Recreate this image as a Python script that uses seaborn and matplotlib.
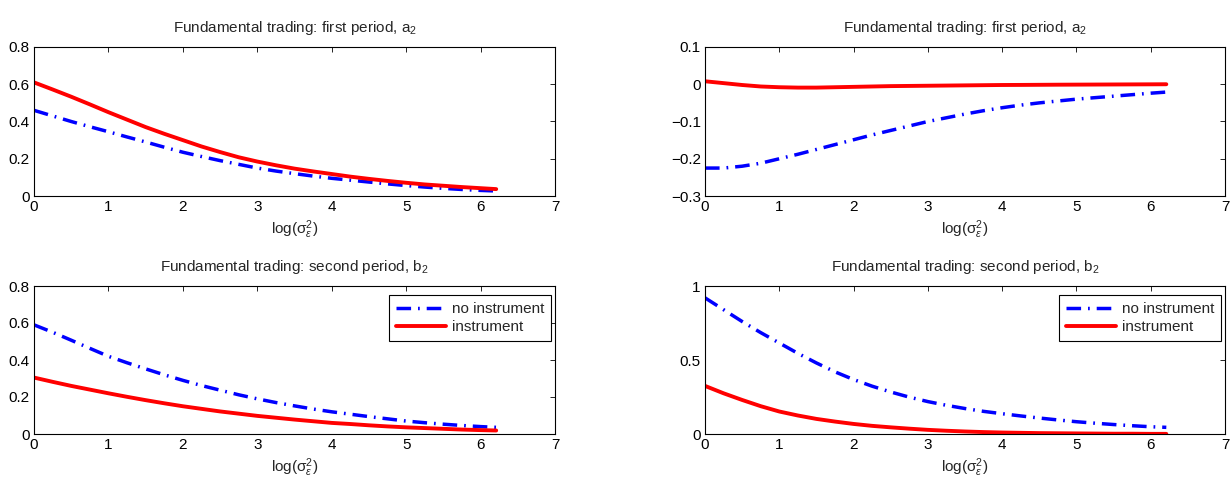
import numpy as np
import pandas as pd
import matplotlib
matplotlib.use("Agg")
import matplotlib.pyplot as plt
import seaborn as sns

# ---- data ----
x = [0.0, 0.25, 0.5, 0.75, 1.0, 1.25, 1.5, 1.75, 2.0, 2.25, 2.5, 2.75, 3.0,
     3.25, 3.5, 3.75, 4.0, 4.25, 4.5, 4.75, 5.0, 5.25, 5.5, 5.75, 6.0, 6.21]

a2_left_noinst = [0.46, 0.43, 0.40, 0.372, 0.345, 0.317, 0.29, 0.262, 0.235, 0.212, 0.19, 0.17, 0.15,
                  0.134, 0.12, 0.107, 0.095, 0.085, 0.075, 0.065, 0.056, 0.048, 0.041, 0.035, 0.03, 0.027]
a2_left_inst = [0.61, 0.572, 0.533, 0.492, 0.45, 0.41, 0.37, 0.334, 0.30, 0.266, 0.236, 0.208, 0.185,
                0.165, 0.147, 0.132, 0.118, 0.104, 0.092, 0.081, 0.071, 0.062, 0.055, 0.048, 0.042, 0.037]

a2_right_noinst = [-0.225, -0.225, -0.22, -0.212, -0.20, -0.188, -0.175, -0.162, -0.149, -0.136, -0.124, -0.112, -0.10,
                   -0.09, -0.08, -0.071, -0.063, -0.056, -0.05, -0.045, -0.04, -0.036, -0.032, -0.028, -0.024, -0.021]
a2_right_inst = [0.008, 0.003, -0.002, -0.006, -0.008, -0.009, -0.009, -0.008, -0.007, -0.006, -0.005, -0.0045, -0.004,
                 -0.0035, -0.003, -0.0025, -0.002, -0.0018, -0.0015, -0.0012, -0.001, -0.0008, -0.0006, -0.0004, -0.0002, 0.0]

b2_left_noinst = [0.59, 0.55, 0.507, 0.463, 0.42, 0.385, 0.352, 0.32, 0.29, 0.262, 0.237, 0.212, 0.19,
                  0.17, 0.152, 0.135, 0.12, 0.107, 0.094, 0.082, 0.07, 0.061, 0.053, 0.046, 0.04, 0.036]
b2_left_inst = [0.305, 0.282, 0.26, 0.24, 0.22, 0.201, 0.183, 0.166, 0.15, 0.136, 0.122, 0.11, 0.098,
                0.088, 0.078, 0.069, 0.06, 0.054, 0.047, 0.041, 0.036, 0.032, 0.028, 0.024, 0.021, 0.019]

b2_right_noinst = [0.92, 0.84, 0.76, 0.685, 0.615, 0.545, 0.48, 0.42, 0.368, 0.323, 0.284, 0.249, 0.219,
                   0.194, 0.172, 0.153, 0.137, 0.122, 0.108, 0.095, 0.083, 0.073, 0.064, 0.056, 0.049, 0.045]
b2_right_inst = [0.325, 0.275, 0.23, 0.188, 0.152, 0.125, 0.102, 0.084, 0.068, 0.055, 0.045, 0.036, 0.028,
                 0.022, 0.017, 0.013, 0.010, 0.008, 0.006, 0.005, 0.004, 0.003, 0.002, 0.002, 0.001, 0.001]

series_names = ["no instrument", "instrument"]
titles = ["Fundamental trading: first period, a$_2$",
          "Fundamental trading: first period, a$_2$",
          "Fundamental trading: second period, b$_2$",
          "Fundamental trading: second period, b$_2$"]
xlabel = r"log($\mathregular{\sigma}_\varepsilon^2$)"
xticks = [0, 1, 2, 3, 4, 5, 6, 7]
yticks_list = [[0, 0.2, 0.4, 0.6, 0.8],
               [-0.3, -0.2, -0.1, 0, 0.1],
               [0, 0.2, 0.4, 0.6, 0.8],
               [0, 0.5, 1]]
yticklabels_list = [["0", "0.2", "0.4", "0.6", "0.8"],
                    ["\u22120.3", "\u22120.2", "\u22120.1", "0", "0.1"],
                    ["0", "0.2", "0.4", "0.6", "0.8"],
                    ["0", "0.5", "1"]]

panels = [(a2_left_noinst, a2_left_inst),
          (a2_right_noinst, a2_right_inst),
          (b2_left_noinst, b2_left_inst),
          (b2_right_noinst, b2_right_inst)]

# ---- style ----
sns.set_theme(style="white")
plt.rcParams["font.family"] = ["Liberation Sans", "DejaVu Sans"]
plt.rcParams["mathtext.fontset"] = "custom"
plt.rcParams["mathtext.rm"] = "Liberation Sans"
plt.rcParams["mathtext.it"] = "Liberation Sans:italic"
plt.rcParams["mathtext.sf"] = "Liberation Sans"

FS = 11

fig = plt.figure(figsize=(12.31, 4.87), dpi=100)

W, H = 1231, 487
boxes = [(34, 47, 555, 196), (705, 47, 1225, 196),
         (34, 286, 555, 434), (705, 286, 1225, 434)]

for i, (box, (noinst, inst)) in enumerate(zip(boxes, panels)):
    l, t, r, b = box
    ax = fig.add_axes([l / W, 1 - b / H, (r - l) / W, (b - t) / H])
    df = pd.DataFrame({"x": x * 2,
                       "y": list(noinst) + list(inst),
                       "series": [series_names[0]] * len(x) + [series_names[1]] * len(x)})
    sns.lineplot(data=df[df.series == series_names[0]], x="x", y="y", ax=ax,
                 color="#0000ff", linewidth=2.5, label=series_names[0])
    sns.lineplot(data=df[df.series == series_names[1]], x="x", y="y", ax=ax,
                 color="#ff0000", linewidth=2.8, label=series_names[1])
    ax.lines[0].set_dashes([4.2, 2.0, 0.5, 2.0])

    ax.set_xlim(0, 7)
    yt = yticks_list[i]
    ax.set_ylim(yt[0], yt[-1])
    ax.set_xticks(xticks)
    ax.set_xticklabels([str(v) for v in xticks])
    ax.set_yticks(yt)
    ax.set_yticklabels(yticklabels_list[i])
    ax.tick_params(direction="in", length=3.5, width=0.6, top=True, right=True,
                   labelsize=FS, pad=3, colors="black")
    for sp in ax.spines.values():
        sp.set_linewidth(0.8)
        sp.set_color("black")
    ax.set_xlabel(xlabel, fontsize=FS, labelpad=3)
    ax.set_ylabel("")
    ax.set_title(titles[i], fontsize=FS, pad=11)

    if i >= 2:
        ax_w = r - l
        ax_h = b - t
        leg = ax.legend(loc="upper right",
                        bbox_to_anchor=((r - 4 - l) / ax_w, (b - 295) / ax_h),
                        borderaxespad=0, fontsize=FS, handlelength=3.3,
                        frameon=True, fancybox=False, edgecolor="black",
                        framealpha=1, borderpad=0.45, labelspacing=0.3,
                        handletextpad=0.35)
        leg.get_frame().set_linewidth(0.8)
    else:
        ax.get_legend().remove()

fig.savefig("out.png", dpi=100)
